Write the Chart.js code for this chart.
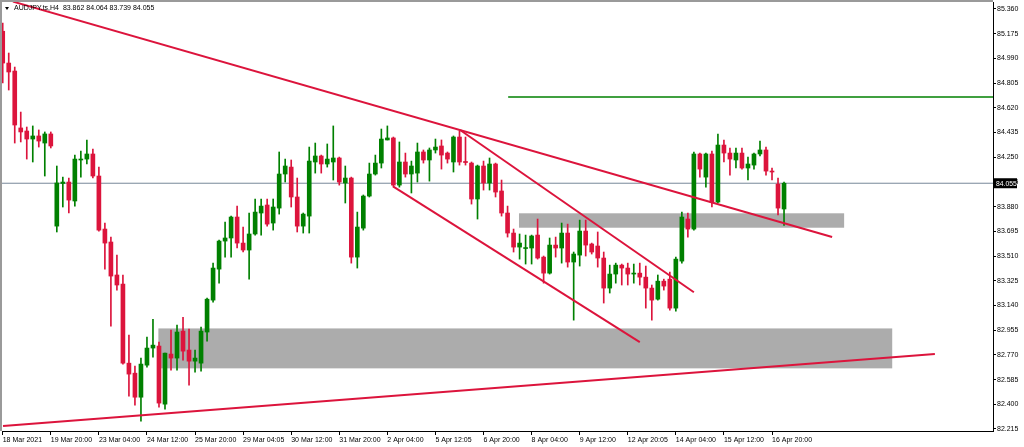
<!DOCTYPE html>
<html>
<head>
<title>AUDJPY.ts,H4</title>
<script src="https://cdn.jsdelivr.net/npm/chart.js"></script>
<style>
    html, body { margin: 0; padding: 0; background: #fff; }
    #chart-container { position: relative; width: 1024px; height: 447px; }
</style>
</head>
<body>
<div id="chart-container"><canvas id="myChart"></canvas></div>
<script>
// Datos (velas H4)
const symbolTitle = 'AUDJPY.ts,H4';
const opens = [85.193,84.955,84.895,84.469,84.446,84.386,84.409,84.356,84.424,83.734,
84.053,84.064,83.922,84.229,84.236,84.274,84.109,83.712,83.615,83.368,
83.300,82.708,82.633,82.453,82.693,82.821,82.836,82.401,82.776,82.746,
82.948,82.806,82.723,82.708,82.941,83.180,83.412,83.622,83.645,83.802,
83.607,83.555,83.675,83.832,83.892,83.757,83.869,84.124,84.176,83.952,
83.734,83.809,84.214,84.259,84.199,84.214,84.244,84.057,84.094,83.502,
83.719,83.959,84.124,84.206,84.379,84.394,84.041,84.214,84.124,84.131,
84.289,84.229,84.304,84.334,84.281,84.214,84.401,84.218,84.206,83.937,
84.184,84.057,84.199,83.997,83.832,83.682,83.577,83.566,83.570,83.667,
83.502,83.382,83.592,83.570,83.682,83.465,83.517,83.697,83.600,83.585,
83.495,83.270,83.375,83.442,83.420,83.375,83.382,83.352,83.270,83.187,
83.322,83.337,83.120,83.472,83.787,83.712,84.274,84.101,84.274,83.914,
84.341,84.281,84.229,84.281,84.169,84.191,84.274,84.304,84.146,84.049,
83.862];
const highs = [85.255,85.030,84.925,84.588,84.476,84.484,84.454,84.439,84.439,84.184,
84.101,84.094,84.266,84.296,84.379,84.311,84.176,83.757,83.652,83.517,
83.368,82.918,82.686,82.746,82.903,83.037,82.866,82.783,82.955,82.993,
83.052,82.963,82.806,82.978,83.195,83.457,83.630,83.764,83.810,83.884,
83.727,83.832,83.937,83.937,83.937,83.937,84.289,84.236,84.229,84.094,
83.832,84.326,84.356,84.266,84.349,84.484,84.251,84.184,84.101,83.839,
83.967,84.206,84.266,84.461,84.484,84.401,84.364,84.281,84.221,84.356,
84.304,84.319,84.386,84.379,84.289,84.409,84.446,84.401,84.214,84.191,
84.221,84.244,84.206,84.079,83.884,83.712,83.675,83.667,83.667,83.787,
83.510,83.645,83.652,83.757,83.749,83.540,83.779,83.779,83.607,83.690,
83.540,83.442,83.457,83.450,83.457,83.450,83.457,83.435,83.293,83.368,
83.337,83.390,83.502,83.839,83.832,84.289,84.281,84.281,84.296,84.424,
84.379,84.319,84.319,84.319,84.251,84.281,84.371,84.326,84.169,84.094,
84.064];
const lows = [84.806,84.753,84.356,84.364,84.236,84.214,84.326,84.109,84.319,83.690,
83.877,83.832,83.884,84.101,84.199,84.094,83.697,83.412,82.985,83.255,
82.701,82.461,82.393,82.274,82.678,82.753,82.378,82.363,82.656,82.656,
82.731,82.543,82.641,82.648,82.873,83.165,83.307,83.502,83.502,83.570,
83.540,83.337,83.667,83.667,83.734,83.704,83.824,84.064,83.877,83.690,
83.682,83.682,84.131,84.131,84.176,84.079,84.041,83.907,83.457,83.420,
83.704,83.952,84.116,84.169,84.379,84.026,84.026,84.101,83.982,84.064,
84.206,84.071,84.281,84.161,84.206,84.139,84.191,84.191,83.899,83.787,
84.004,84.004,83.952,83.809,83.652,83.540,83.487,83.450,83.450,83.487,
83.307,83.375,83.502,83.457,83.427,83.030,83.435,83.510,83.525,83.427,
83.158,83.233,83.307,83.293,83.293,83.307,83.293,83.120,83.030,83.180,
83.255,83.105,83.098,83.457,83.652,83.704,84.101,84.026,83.877,83.907,
84.214,84.116,84.169,84.161,84.079,84.161,84.259,84.116,84.079,83.817,
83.739];
const closes = [84.955,84.888,84.491,84.439,84.386,84.409,84.371,84.424,84.334,84.057,
84.064,83.929,84.236,84.236,84.274,84.109,83.704,83.607,83.360,83.293,
82.708,82.626,82.453,82.701,82.821,82.843,82.409,82.783,82.746,82.941,
82.798,82.723,82.746,82.948,83.187,83.420,83.622,83.645,83.802,83.607,
83.555,83.675,83.839,83.884,83.749,83.877,84.124,84.184,83.952,83.734,
83.824,84.221,84.259,84.199,84.236,84.244,84.064,84.094,83.502,83.727,
83.959,84.124,84.206,84.386,84.394,84.041,84.214,84.124,84.184,84.289,
84.229,84.304,84.326,84.266,84.236,84.401,84.214,84.210,83.937,84.184,
84.057,84.199,83.989,83.832,83.682,83.577,83.607,83.570,83.660,83.495,
83.382,83.592,83.570,83.682,83.465,83.525,83.697,83.592,83.540,83.495,
83.270,83.375,83.442,83.420,83.375,83.382,83.352,83.270,83.180,83.322,
83.285,83.120,83.487,83.802,83.712,84.274,84.161,84.274,83.914,84.341,
84.281,84.236,84.281,84.169,84.199,84.274,84.304,84.146,84.139,83.869,
84.055];

// Etiquetas del eje de tiempo (una cada 8 velas)
const xTickLabels = ['18 Mar 2021','19 Mar 20:00','23 Mar 04:00','24 Mar 12:00','25 Mar 20:00',
    '29 Mar 04:05','30 Mar 12:00','31 Mar 20:00','2 Apr 04:00','5 Apr 12:05','6 Apr 20:00',
    '8 Apr 04:00','9 Apr 12:00','12 Apr 20:05','14 Apr 04:00','15 Apr 12:00','16 Apr 20:00'];
const xTickIndex = [0,8,16,24,32,40,48,56,64,72,80,88,96,104,112,120,128];
const yTicks = [82.215,82.400,82.585,82.770,82.955,83.140,83.325,83.510,83.695,83.880,
    84.065,84.250,84.435,84.620,84.805,84.990,85.175,85.360];

// Lineas y zonas dibujadas en el grafico (indice de vela, precio)
const bidPrice = 84.055;
const resistanceFrom = 84.1;
const resistancePrice = 84.700;
const trendStart = [[1.7, 85.415], [76.1, 84.454], [65.0, 84.029], [0.05, 82.238]];
const trendEnd   = [[138.0, 83.653], [115.0, 83.239], [106.0, 82.866], [155.1, 82.777]];
const zoneFrom = [85.9, 25.9];
const zoneTo = [140.0, 148.0];
const zoneHigh = [83.830, 82.968];
const zoneLow = [83.722, 82.669];

const X_MIN = -0.12, X_MAX = 164.77;
const RED = 'rgb(220,20,60)';
const GREEN = 'rgb(0,128,0)';
const FONT = '"Liberation Sans", Arial, sans-serif';

function renderChart() {
    const idx = opens.map((_, i) => i);
    const colors = idx.map(i => closes[i] >= opens[i] ? GREEN : RED);

    const trendSets = trendStart.map((p, k) => ({
        type: 'line',
        data: [{ x: p[0], y: p[1] }, { x: trendEnd[k][0], y: trendEnd[k][1] }],
        borderColor: RED,
        borderWidth: 2,
        pointRadius: 0,
        order: 0
    }));

    const overlay = {
        id: 'overlay',
        beforeDatasetsDraw(chart) {
            const { ctx, chartArea: a, scales: { x, y } } = chart;
            ctx.save();
            ctx.beginPath();
            ctx.rect(a.left, a.top, a.right - a.left, a.bottom - a.top);
            ctx.clip();
            ctx.fillStyle = 'rgb(172,172,172)';
            zoneFrom.forEach((z, k) => {
                const x0 = x.getPixelForValue(z), x1 = x.getPixelForValue(zoneTo[k]);
                const y0 = y.getPixelForValue(zoneHigh[k]), y1 = y.getPixelForValue(zoneLow[k]);
                ctx.fillRect(x0, y0, x1 - x0, y1 - y0);
            });
            ctx.restore();
        },
        afterDraw(chart) {
            const { ctx, chartArea: a, scales: { y } } = chart;
            ctx.save();
            // marco gris superior e izquierdo
            ctx.strokeStyle = '#9a9a9a';
            ctx.lineWidth = 2;
            ctx.beginPath();
            ctx.moveTo(1, a.bottom);
            ctx.lineTo(1, 1);
            ctx.lineTo(a.right, 1);
            ctx.stroke();

            // titulo con OHLC de la ultima vela
            const n = opens.length - 1;
            ctx.fillStyle = '#000';
            ctx.beginPath();
            ctx.moveTo(5, 7); ctx.lineTo(9, 7); ctx.lineTo(7, 10); ctx.closePath();
            ctx.fill();
            ctx.font = '7px ' + FONT;
            ctx.textBaseline = 'middle';
            ctx.textAlign = 'left';
            ctx.fillText(symbolTitle + '  ' + [opens[n], highs[n], lows[n], closes[n]].map(v => v.toFixed(3)).join(' '), 14, 8.5);

            // etiqueta del precio actual
            const py = y.getPixelForValue(bidPrice);
            ctx.fillStyle = '#000';
            ctx.fillRect(a.right, py - 5, 24, 10);
            ctx.fillStyle = '#fff';
            ctx.font = '6.8px ' + FONT;
            ctx.fillText(bidPrice.toFixed(3), a.right + 3, py + 0.5);
            ctx.restore();
        }
    };

    new Chart(document.getElementById('myChart'), {
        type: 'bar',
        data: {
            datasets: [
                ...trendSets,
                {
                    type: 'line',
                    data: [{ x: resistanceFrom, y: resistancePrice }, { x: X_MAX, y: resistancePrice }],
                    borderColor: GREEN,
                    borderWidth: 1.5,
                    pointRadius: 0,
                    order: 0
                },
                {
                    type: 'bar',
                    data: idx.map(i => ({ x: i, y: [opens[i], closes[i]] })),
                    backgroundColor: colors,
                    barThickness: 4,
                    maxBarThickness: 4,
                    minBarLength: 1,
                    grouped: false,
                    borderWidth: 0,
                    order: 1
                },
                {
                    type: 'bar',
                    data: idx.map(i => ({ x: i, y: [lows[i], highs[i]] })),
                    backgroundColor: colors,
                    barThickness: 1,
                    maxBarThickness: 1,
                    grouped: false,
                    borderWidth: 0,
                    order: 2
                },
                {
                    type: 'line',
                    data: [{ x: X_MIN, y: bidPrice }, { x: X_MAX, y: bidPrice }],
                    borderColor: 'rgb(119,136,153)',
                    borderWidth: 1,
                    pointRadius: 0,
                    order: 3
                }
            ]
        },
        options: {
            responsive: true,
            maintainAspectRatio: false,
            animation: false,
            layout: { padding: { left: 2, top: 2, right: 0, bottom: 0 } },
            plugins: { legend: { display: false }, tooltip: { enabled: false } },
            scales: {
                x: {
                    type: 'linear',
                    min: X_MIN,
                    max: X_MAX,
                    offset: false,
                    grid: { offset: false, drawOnChartArea: false, drawTicks: true, tickLength: 4, tickColor: '#000' },
                    border: { display: true, color: '#000', width: 1 },
                    afterBuildTicks: s => { s.ticks = xTickIndex.map(v => ({ value: v })); },
                    afterFit: s => { s.height = 16; s.paddingLeft = 0; s.paddingRight = 0; },
                    ticks: {
                        autoSkip: false,
                        maxRotation: 0,
                        align: 'start',
                        padding: 1,
                        color: '#000',
                        font: { family: FONT, size: 7 },
                        callback: v => xTickLabels[xTickIndex.indexOf(v)]
                    }
                },
                y: {
                    position: 'right',
                    min: 82.200,
                    max: 85.412,
                    grid: { drawOnChartArea: false, drawTicks: true, tickLength: 3, tickColor: '#000' },
                    border: { display: true, color: '#000', width: 1 },
                    afterBuildTicks: s => { s.ticks = yTicks.map(v => ({ value: v })); },
                    afterFit: s => { s.width = 31; s.paddingTop = 0; s.paddingBottom = 0; },
                    ticks: {
                        padding: 1,
                        color: '#000',
                        font: { family: FONT, size: 7 },
                        callback: v => v.toFixed(3)
                    }
                }
            }
        },
        plugins: [overlay]
    });
}

window.addEventListener('DOMContentLoaded', renderChart);
</script>
</body>
</html>
